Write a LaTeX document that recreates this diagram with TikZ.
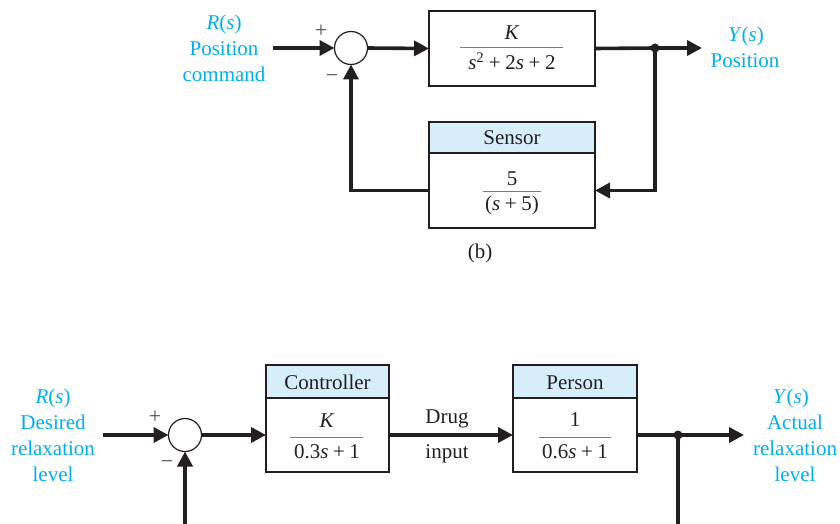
\documentclass[tikz,border=0pt]{standalone}
\usepackage{fontspec}
\setmainfont{Liberation Serif}
\usetikzlibrary{arrows.meta}
\definecolor{lbl}{RGB}{0,174,239}
\definecolor{hdr}{RGB}{214,237,250}
\definecolor{ink}{RGB}{35,31,32}
\newcommand{\vs}{\textit{s}}
\newcommand{\pl}{\hspace{0.22em}+\hspace{0.22em}}
\begin{document}
\begin{tikzpicture}[x=1pt,y=-1pt,
 every node/.style={inner sep=0pt, outer sep=0pt, font=\fontsize{21}{26}\selectfont, text=ink},
 blk/.style={draw=ink, line width=1.6pt, rectangle},
 hd/.style={blk, fill=hdr},
 sumj/.style={draw=ink, line width=1.2pt, circle, minimum size=33pt},
 sig/.style={line width=3.6pt, draw=ink, line join=miter, -{Triangle[length=15pt,width=15pt]}},
 wire/.style={line width=3.6pt, draw=ink, line join=miter},
 frl/.style={draw=ink!60, line width=0.8pt},
 lab/.style={text=lbl, anchor=base},
 txt/.style={anchor=base},
 sgn/.style={font=\fontsize{22}{22}\selectfont, text=ink!80},
 jdot/.style={circle, fill=ink, minimum size=9pt}]
\useasboundingbox (0,0) rectangle (840,524);

% ---------- top diagram ----------
\node[lab] (r1) at (224,30) {\textit{R}(\textit{s})};
\node[lab] (r2) at (224,56) {Position};
\node[lab] (r3) at (224,82) {command};
\coordinate (tin) at (273,48);
\node[sumj] (ts) at (351,48) {};
\node[sgn] (tp) at (321,31) {+};
\node[sgn] (tm) at (332,79) {\char"2212};
\node[blk, minimum width=166pt, minimum height=75pt] (G) at (512,48.5) {};
\node[txt] (gn) at (512,40) {\textit{K}};
\draw[frl] (460,47) -- (563,47);
\node[txt] (gd) at (512,70) {\vs\textsuperscript{2}\pl 2\vs\pl 2};
\node[jdot] (tj) at (655,48) {};
\coordinate (tout) at (702,48);
\node[lab] (y1) at (746,42) {\textit{Y}(\textit{s})};
\node[lab] (y2) at (745,68) {Position};
\node[hd, minimum width=166pt, minimum height=31pt] (Sh) at (512,137.5) {};
\node[txt] (sht) at (512,144) {Sensor};
\node[blk, minimum width=166pt, minimum height=75pt] (Sb) at (512,190.5) {};
\node[txt] (sn) at (512,185) {5};
\draw[frl] (483,191) -- (541,191);
\node[txt] (sd) at (512,210) {(\vs\pl 5)};
\node[txt] (cap) at (480,258) {(b)};

\draw[sig] (tin) -- (ts.west);
\draw[sig] (ts.east) -- (G.west);
\draw[wire] (G.east) -- (tj.center);
\draw[sig] (tj.center) -- (tout);
\draw[sig] (tj.center) |- (Sb.east);
\draw[sig] (Sb.west) -| (ts.south);

% ---------- bottom diagram ----------
\node[lab] (br1) at (53,403) {\textit{R}(\textit{s})};
\node[lab] (br2) at (53,429) {Desired};
\node[lab] (br3) at (53,455) {relaxation};
\node[lab] (br4) at (53,481) {level};
\coordinate (bin) at (103,435);
\node[sumj] (bs) at (185,435) {};
\node[sgn] (bp) at (155,417) {+};
\node[sgn] (bm) at (167,465) {\char"2212};
\node[hd, minimum width=123pt, minimum height=33pt] (Ch) at (327.5,381.5) {};
\node[txt] (cht) at (327.5,389) {Controller};
\node[blk, minimum width=123pt, minimum height=74pt] (Cb) at (327.5,435) {};
\node[txt] (cn) at (327,427) {\textit{K}};
\draw[frl] (290,437) -- (363,437);
\node[txt] (cd) at (327,458) {0.3\vs\pl 1};
\node[txt] (d1) at (447,423) {Drug};
\node[txt] (d2) at (447,458) {input};
\node[hd, minimum width=124pt, minimum height=33pt] (Ph) at (575,381.5) {};
\node[txt] (pht) at (575,389) {Person};
\node[blk, minimum width=124pt, minimum height=74pt] (Pb) at (575,435) {};
\node[txt] (pn) at (575,426) {1};
\draw[frl] (539,437) -- (611,437);
\node[txt] (pd) at (575,458) {0.6\vs\pl 1};
\node[jdot] (bj) at (678,435) {};
\coordinate (bout) at (744,435);
\node[lab] (by1) at (791,403) {\textit{Y}(\textit{s})};
\node[lab] (by2) at (795,429) {Actual};
\node[lab] (by3) at (795,455) {relaxation};
\node[lab] (by4) at (795,481) {level};
\coordinate (bfr) at (678,524);
\coordinate (bfl) at (185,524);

\draw[sig] (bin) -- (bs.west);
\draw[sig] (bs.east) -- (Cb.west);
\draw[sig] (Cb.east) -- (Pb.west);
\draw[wire] (Pb.east) -- (bj.center);
\draw[sig] (bj.center) -- (bout);
\draw[wire] (bj.center) -- (bfr);
\draw[sig] (bfl) -- (bs.south);
\end{tikzpicture}
\end{document}
